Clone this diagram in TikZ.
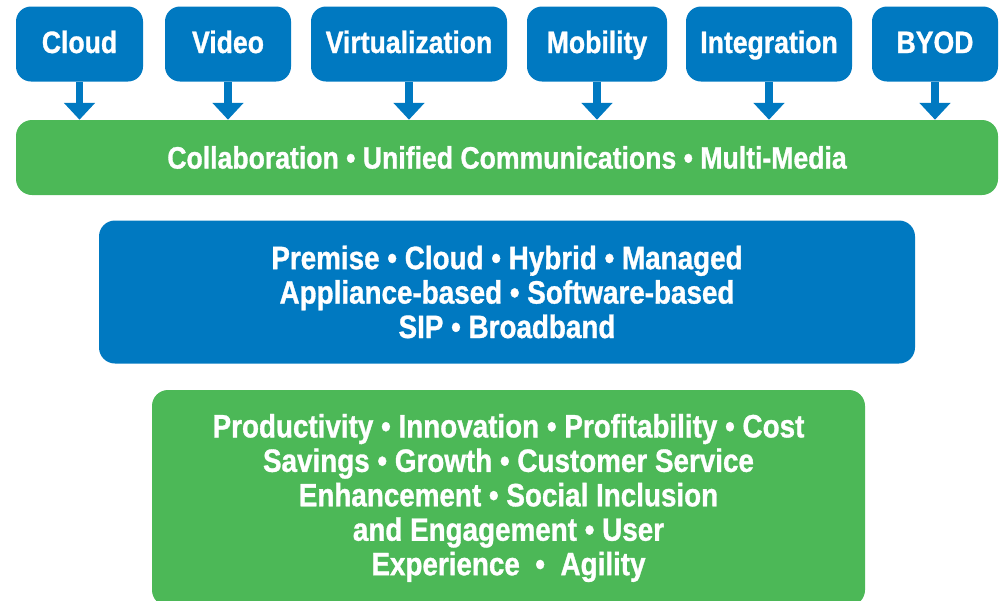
\documentclass[tikz,border=0pt]{standalone}
\usepackage{fontspec}
\setsansfont{Liberation Sans}[FakeStretch=0.86,BoldFeatures={FakeBold=1}]
\usetikzlibrary{arrows.meta}
\definecolor{BoxBlue}{RGB}{0,121,193}
\definecolor{BoxGreen}{RGB}{76,184,87}
\newcommand{\pu}{0.025cm}

\begin{document}
\begin{tikzpicture}[x=\pu,y=-\pu,
  tag/.style={fill=BoxBlue,text=white,rounded corners=15*\pu,inner sep=0pt,
    minimum height=75*\pu,text height=17pt,text depth=4.2pt,
    font=\sffamily\bfseries\fontsize{22}{24}\selectfont},
  band/.style={text=white,rounded corners=16*\pu,inner sep=0pt,align=center,
    font=\sffamily\bfseries\fontsize{23}{24.5}\selectfont},
  feed/.style={BoxBlue,line width=5pt,-{Triangle[width=21.5pt,length=12pt]}}]
\useasboundingbox (0,0) rectangle (1000,600);
\clip (0,0) rectangle (1000,600);

\node[tag,minimum width=127*\pu] (cloud) at (79.5,44) {Cloud};
\node[tag,minimum width=126*\pu] (video) at (228,44) {Video};
\node[tag,minimum width=196*\pu] (virt) at (409,44) {Virtualization};
\node[tag,minimum width=140*\pu] (mob) at (597,44) {Mobility};
\node[tag,minimum width=166*\pu] (integ) at (769,44) {Integration};
\node[tag,minimum width=126*\pu] (byod) at (935,44) {BYOD};

\node[band,fill=BoxGreen,minimum width=982*\pu,minimum height=75*\pu,
  font=\sffamily\bfseries\fontsize{22}{24}\selectfont] (collab) at (507,157.5)
  {Collaboration • Unified Communications • Multi-Media};

\node[band,fill=BoxBlue,minimum width=816*\pu,minimum height=143*\pu] (deploy) at (507,292)
  {Premise • Cloud • Hybrid • Managed\\
   Appliance-based • Software-based\\
   SIP • Broadband};

\node[band,fill=BoxGreen,minimum width=713*\pu,minimum height=216*\pu] (benefit) at (508.5,498)
  {Productivity • Innovation • Profitability • Cost\\
   Savings • Growth • Customer Service\\
   Enhancement • Social Inclusion\\
   and Engagement • User\\
   Experience\ \ •\ \ Agility};

\foreach \t in {cloud,video,virt,mob,integ,byod}
  \draw[feed] (\t.south) -- (\t.south |- collab.north);

\end{tikzpicture}
\end{document}
